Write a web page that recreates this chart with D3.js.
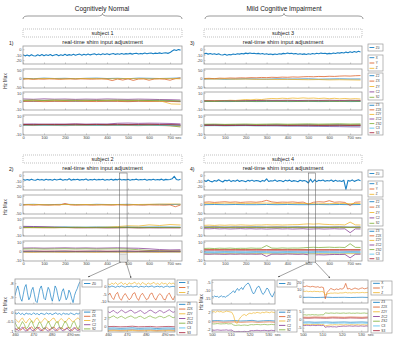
<!DOCTYPE html>
<html>
<head>
<meta charset="utf-8">
<script src="https://cdn.jsdelivr.net/npm/d3@7"></script>
<style>
body { margin: 0; background: #fff; }
svg { display: block; font-family: "Liberation Sans", Arial, sans-serif; }
.tick text, .tl { font-size: 4px; fill: #444; font-family: "Liberation Sans", Arial, sans-serif; }
.tick line { stroke: #777; stroke-width: 0.4; }
.frame { fill: none; stroke: #9a9a9a; stroke-width: 0.8; }
.lg { fill: #fff; stroke: #9a9a9a; stroke-width: 0.7; }
</style>
</head>
<body>
<div id="viz"></div>
<script>
// ---- shim names / colours
const order1 = ['Z0']
const orderXYZ = ['X', 'Y', 'Z']
const order2 = ['Z2', 'ZX', 'ZY', 'C2', 'S2']
const order3 = ['Z3', 'Z2X', 'Z2Y', 'ZC2', 'ZS2', 'C3', 'S3']
const COLORS = ['#0072BD', '#D95319', '#EDB120', '#7E2F8E', '#77AC30', '#4DBEEE', '#A2142F']

const mainTicks = [0, 100, 200, 300, 400, 500, 600, 700]
const leftZoomTicks = [460, 470, 480, 490]
const rightZoomTicks = [500, 510, 520, 530]

// ---- subject 1 (whole run, 0..750 sec)
const s1Z0 = [-9.8,-12.1,-10.5,-12.4,-9.9,-11.8,-12.3,-10.1,-11.9,-9.7,
  -12,-10.2,-11.5,-9.6,-11.9,-10.4,-9.5,-11.7,-10,-11.4,
  -9.3,-11.2,-9.8,-10.9,-9.1,-11,-9.6,-8.9,-10.8,-9.2,
  -10.5,-8.7,-10.3,-9,-8.4,-10.2,-8.8,-9.9,-8.3,-9.6,
  -8.1,-9.8,-8.6,-7.9,-9.4,-8.2,-9.3,-7.7,-9.1,-8,
  -8.8,-7.5,-8.9,-7.8,-7.2,-8.7,-7.6,-8.4,-7,-8.3,
  -7.4,-6.8,-8.1,-7.1,-7.8,-6.6,-7.7,-6.9,-6.4,-7.5,
  -6.1,-3.2,-0.9,-2.1,-0.5,-1.6]
const s1X = [1,-1,2,0,1,-1,1,2,0,1,-1,2,1,0,1,3]
const s1Y = [-4,-2,-5,-3,-4,-2,-3,-5,-3,-2,-4,-2,-3,-4,-3,-2,-4,-12,-3,-9,-2,-11,-3,-2,-10,-3,-2,-4,-10,-1,3]
const s1Z = [-1,-2,0,-1,-2,-1,0,-1,-2,-1,0,-1,-2,-1,0,-2]
const s1Z2 = [0.2,-0.3,0.4,0,0.3,-0.2,0.2,0.5,0,0.3,-0.1,0.2,0.4,0,0.1,-0.6]
const s1ZX = [-0.6,-0.3,-0.8,-0.4,-0.6,-0.2,-0.5,-0.7,-0.3,-0.5,-0.8,-0.4,-0.6,-0.3,-0.5,-0.9]
const s1ZY = [0.6,0.9,0.4,0.8,0.5,1,0.6,0.4,0.9,0.5,0.7,0.3,0.6,0.4,0.2,-0.4,-3.6,-3.9]
const s1C2 = [2.5,2.1,2.6,2.2,2.4,2,2.3,2.1,2.5,2.2,2,2.3,2.1,1.8,1.6,1.2]
const s1S2 = [0.9,1.1,0.7,1.2,0.9,0.8,1,0.7,1,1.1,0.8,0.9,0.7,0.8,0.6,0.1]
const s1Z3 = [0.3,0.5,0.1,0.4,0.2,0.5,0.3,0.1,0.4,0.3,0.5,0.2,0.4,0.1,0.3,-0.2]
const s1Z2X = [-0.4,-0.6,-0.3,-0.5,-0.7,-0.4,-0.5,-0.3,-0.6,-0.4,-0.5,-0.7,-0.4,-0.6,-0.8,-1.2]
const s1Z2Y = [0,0.2,-0.1,0.1,0,0.2,-0.1,0,0.1,-0.1,0.2,0,0.1,-0.2,0,-0.5]
const s1ZC2 = [1,1.2,0.9,1.1,1,1.3,1,1.2,1.1,1.9,2.1,1.8,2,1.9,1.7,1.2]
const s1ZS2 = [0.2,0,0.3,0.1,0,0.2,0.1,-0.1,0.2,0,0.1,-0.1,0,-0.3,-0.8,-2.2]
const s1C3 = [-0.3,-0.1,-0.4,-0.2,-0.3,-0.1,-0.2,-0.4,-0.2,-0.3,-0.1,-0.3,-0.2,-0.4,-0.3,-0.6]
const s1S3 = [0.6,0.4,0.7,0.5,0.6,0.8,0.5,0.6,0.4,0.7,0.5,0.6,0.8,0.5,0.4,0.1]

// ---- subject 2
const s2Z0 = [-7.2,-9.1,-7.8,-8.9,-7.1,-8.6,-9,-7.4,-8.8,-7.6,
  -9.2,-7.3,-8.5,-7.8,-9,-7.2,-8.7,-7.9,-7.1,-9.1,
  -7.7,-8.6,-6.4,-9,-7.5,-8.3,-7.2,-8.9,-7.7,-8.4,
  -7,-9.2,-7.8,-8.5,-7.1,-8.8,-7.6,-8.2,-7.3,-9,
  -7.7,-8.6,-7.2,-8.9,-7.5,-8.4,-7,-8.7,-7.9,-8.5,
  -7.3,-9,-7.6,-8.3,-7.1,-8.8,-7.7,-8.2,-7.4,-9.1,
  -7.6,-8.5,-7.2,-8.7,-7.8,-8.4,-7.1,-8.9,-7.5,-8.3,
  -7.7,-6.5,-1.8,-7.6,-8.6,-7.4]
const s2X = [0,1,-1,0,1,0,-1,1,0,0,1,-1,0,1,0,1]
const s2Y = [-3,-2,-4,-2,-3,-4,-2,-3,6,-2,-4,-3,-2,-4,-3,-2,-3,-4,-2,-3,-4,-2,-3,-4,-2,-3,-3,-4,-2,-13,-3]
const s2Z = [-1,0,-1,-2,0,-1,0,-1,-1,0,-1,0,1,2,3,2]
const s2Z2 = [-0.1,0,-0.2,-0.1,0,-0.1,-0.2,0,-0.1,-0.1,0,-0.2,-0.1,0,-0.1,-0.2]
const s2ZX = [-0.9,-0.8,-1,-0.9,-0.8,-1,-0.9,-0.8,-1,-0.9,-0.8,-1,-0.9,-0.8,-1,-0.9]
const s2ZY = [-0.4,-0.5,-0.3,-0.4,-0.6,-0.3,-0.5,-0.4,-0.2,0.5,1.5,1.2,2.6,1.8,3,2.4]
const s2C2 = [0.8,0.6,0.3,-0.2,-0.5,-0.8,-0.9,-0.8,-1,-0.9,-0.8,-1,-0.9,-1.1,-0.9,-1]
const s2S2 = [-0.5,-0.7,-0.6,-0.8,-0.5,-0.7,-0.6,-0.8,-0.6,-0.7,-0.5,-0.8,-0.6,-0.7,-0.5,-0.6]
const s2Z3 = [-0.5,-0.4,-0.6,-0.5,-0.4,-0.6,-0.5,-0.4,-0.6,-0.5,-0.4,-0.6,-0.5,-0.4,-0.6,-0.5]
const s2Z2X = [-1,-1.1,-0.9,-1,-1.1,-0.9,-1,-1.1,-0.9,-1,-1.1,-0.9,-1,-1.1,-0.9,-1]
const s2Z2Y = [-1.2,-1.3,-1.1,-1.2,-1.3,-1.1,-1.2,-1.3,-1.1,-1.2,-1.3,-1.1,-1.2,-1.3,-1.1,-1.2]
const s2ZC2 = [3.2,3.4,3.1,3.3,3.5,3.2,3.4,3.1,3.3,3.5,3.2,3,2.4,1.6,1.2,1.4]
const s2ZS2 = [2.2,2.4,2.1,2.3,2.5,2.2,2.4,2.1,2.3,2.4,2.2,1.4,0.6,0.2,0.1,0]
const s2C3 = [-0.8,-0.7,-0.9,-0.8,-0.7,-0.9,-0.8,-0.7,-0.9,-0.8,-0.7,-0.9,-0.8,-0.7,-0.9,-0.8]
const s2S3 = [-0.1,0,-0.2,-0.1,0,-0.2,-0.1,0,-0.2,-0.1,0,-0.2,-0.1,0,-0.2,-0.1]

// ---- subject 3
const s3Z0 = [-8.5,-7.2,-8.9,-7.8,-9.3,-8.1,-9.6,-8.4,-9.9,-10.6,
  -9.2,-10.8,-9.5,-10.2,-8.8,-9.6,-8.2,-8.9,-7.6,-8.4,
  -7.1,-8,-6.9,-7.8,-7.2,-8.3,-7.5,-8.6,-7.9,-9.1,
  -8.2,-9.4,-8.6,-9.8,-8.7,-9.5,-8.1,-8.9,-7.5,-8.2,
  -7,-7.9,-7.3,-8.5,-7.8,-9,-8.1,-9.3,-8.4,-9.6,
  -8.3,-9.1,-7.9,-8.6,-7.4,-8.1,-7,-7.9,-7.2,-8.4,
  -7.5,-8.2,-6.8,-7.6,-6.3,-7.1,-5.8,-6.9,-5.2,-6.4,
  -4.6,-5.9,-4.2,-5.5,-3.8,-4.9]
const s3X = [-3,-2,-4,-3,-2,-3,-4,-2,-3,-3,-2,-4,-3,-2,-3,-3]
const s3Y = [0,1,-1,2,1,3,2,4,3,5,4,6,5,7,6,8,7,9,8,10,11,10,12,11,13,12,14,15,14,16,17]
const s3Z = [-2,-3,-2,-4,-3,-5,-4,-6,-5,-6,-7,-6,-8,-7,-8,-9]
const s3Z2 = [-0.6,-0.5,-0.7,-0.6,-0.5,-0.7,-0.6,-0.5,-0.7,-0.6,-0.5,-0.7,-0.6,-0.5,-0.7,-0.6]
const s3ZX = [0.4,0.3,0.5,0.4,0.3,0.5,0.4,0.3,0.5,0.4,0.3,0.5,0.4,0.3,0.5,0.4]
const s3ZY = [0.2,0.5,0.1,0.6,0.4,0.9,0.6,1.2,1.8,1.4,2.1,1.7,2.6,3.1,2.8,3.4,3,3.6,3.2,3.8,3.3,3.6,3,3.5,2.8,3.3,2.6,3.1,2.5,2.9,2.4]
const s3C2 = [0.2,0,0.3,0.1,0.4,0.6,0.8,0.7,0.9,0.6,0.8,0.7,0.9,0.6,0.8,0.7]
const s3S2 = [-0.3,-0.5,-0.2,-0.4,-0.3,-0.5,-0.2,-0.4,-0.3,-0.5,-0.2,-0.4,-0.3,-0.5,-0.2,-0.4]
const s3Z3 = [0.3,0.4,0.2,0.3,0.4,0.2,0.3,0.4,0.2,0.3,0.4,0.2,0.3,0.4,0.2,0.3]
const s3Z2X = [-0.6,-0.5,-0.7,-0.6,-0.5,-0.7,-0.6,-0.5,-0.7,-0.6,-0.5,-0.7,-0.6,-0.5,-0.7,-0.6]
const s3Z2Y = [0.1,0,0.2,0.1,0,0.2,0.1,0,0.2,0.1,0,0.2,0.1,0,0.2,0.1]
const s3ZC2 = [0.2,0,-0.2,-0.3,-0.5,-0.6,-0.8,-0.9,-1.1,-1.2,-1.4,-1.5,-1.7,-1.8,-2,-2.1]
const s3ZS2 = [0.8,1,0.7,0.9,1.1,0.8,1,1.2,0.9,1.1,1.3,1,1.2,1.4,1.1,1.3]
const s3C3 = [-0.9,-0.8,-1,-0.9,-0.8,-1,-0.9,-0.8,-1,-0.9,-0.8,-1,-0.9,-0.8,-1,-0.9]
const s3S3 = [-0.4,-0.3,-0.5,-0.4,-0.3,-0.5,-0.4,-0.3,-0.5,-0.4,-0.3,-0.5,-0.4,-0.3,-0.5,-0.4]

// ---- subject 4
const s4Z0 = [-9.2,-11.4,-8.7,-10.8,-12.1,-9.5,-11,-8.3,-10.6,-12.4,
  -9.1,-10.3,-8.5,-11.6,-9.8,-10.9,-8.8,-11.3,-9.6,-10.4,
  -11.8,-9.3,-10.7,-8.9,-11.1,-9.7,-10.2,-12,-9.4,-10.8,
  -6.5,-11.4,-9.9,-10.5,-8.7,-11.2,-9.5,-10.1,-11.7,-9.2,
  -10.6,-8.9,-11.3,-9.8,-10.4,-11.9,-9.1,-10.7,-9.6,-11,
  -14.2,-7.1,-12.8,-8.4,-11.6,-9.3,-10.2,-8.8,-11.1,-9.7,
  -10.5,-8.6,-11.4,-9.2,-10.8,-9.9,-11.3,-9,-26,-9.4,
  -10.7,-8.5,-11.2,-9.6,-8.1,-10.3]
const s4X = [-1,0,-1,0,-1,-1,0,-1,0,-1,-1,0,-1,0,-1,0]
const s4Y = [13,15,12,14,16,13,15,12,14,15,13,16,24,15,12,14,13,15,12,14,2,13,16,14,22,13,15,12,-6,13,15]
const s4Z = [7,6,8,7,6,7,8,6,7,6,5,4,5,6,5,6]
const s4Z2 = [0,0.2,-0.1,0.1,0,0.2,-0.1,0.1,0,0.2,-0.1,0.1,0,0.2,-0.1,0.1]
const s4ZX = [-0.3,-0.2,-0.4,-0.3,-0.2,-0.4,-0.3,-0.2,-0.4,-0.3,-0.2,-0.4,-0.3,-0.2,-0.4,-0.3]
const s4ZY = [2,2.3,1.9,2.4,2.1,2.5,2.2,2.6,2.3,2.1,2.5,2.4,2.8,2.5,2.7,2.4,2.6,2.8,2.9,3.4,3.8,3.5,3.9,3.3,3,2.7,2.9,2.5,6,2.6,2.4]
const s4C2 = [-2,-2.2,-1.9,-2.3,-2.1,-2.4,-2.2,-2,-2.3,-2.1,-2.4,-2.2,-2.5,-2.3,-2.1,-2.4,-2.2,-2.5,-2.3,-2.1,-2.6,-2.4,-2.2,-2.5,-2.3,-2.1,-2.4,-2.2,-7,-2.3,-2.4]
const s4S2 = [-0.6,-0.8,-0.7,-0.9,-0.6,-0.8,-0.7,-0.9,-0.6,-0.8,-0.7,-0.9,-0.6,-0.8,-0.7,-0.9]
const s4Z3 = [-1,-1.1,-0.9,-1,-1.1,-0.9,-1,-1.1,-0.9,-1,-1.1,-0.9,-1,-1.1,-0.9,-1]
const s4Z2X = [1.5,1.6,1.4,1.5,1.6,1.4,1.5,1.6,1.4,1.5,1.6,1.4,1.5,1.6,1.4,1.5]
const s4Z2Y = [-3,-3.1,-2.9,-3,-3.1,-2.9,-3,-3.1,-2.9,-3,-3.1,-2.9,-3,-3.1,-2.9,-3]
const s4ZC2 = [-3.4,-3.6,-3.3,-3.5,-3.7,-3.4,-3.6,-3.3,-3.5,-3.4,-3.6,-3.3,-6,-3.5,-3.4,-3.6,-3.3,-3.5,-3.7,-3.4,-4.2,-4.4,-4.1,-4.3,-4,-3.8,-3.9,-3.7,-7.5,-3.6,-3.5]
const s4ZS2 = [2.8,3,2.7,3.1,2.9,3.2,2.8,3,2.9,3.3,3,3.1,6,3.2,3,3.4,3.1,3.3,3.2,3.5,3.9,4.1,3.8,4,4.2,3.9,4.1,3.8,8,4,3.9]
const s4C3 = [-2,-2.1,-1.9,-2,-2.1,-1.9,-2,-2.1,-1.9,-2,-2.1,-1.9,-2,-2.1,-1.9,-2]
const s4S3 = [1,0.9,1.1,1,0.9,1.1,1,0.9,1.1,1,0.9,1.1,1,0.9,1.1,1]

// ---- zoom of subject 2, 460..495.5 sec
const zA_Z0 = [-8.9,-8.5,-8.2,-8.6,-9.1,-9.3,-8.8,-8.3,-8.1,-8.7,-9.2,-9.0,-8.5,-8.3,-8.8,-9.3,-9.4,-8.9,-8.4,-8.2,-8.6,-9.1,-9.2,-8.7,-8.3,-8.5,-9.0,-9.3,-8.8,-8.2,-8.4,-8.9,-9.3,-9.1,-8.6,-8.4,-8.8,-9.2,-9.0,-8.5,-8.7,-9.1,-9.4,-8.9,-8.6,-8.4,-8.1,-7.9]
const zB_Z2 = [-0.05,-0.1,-0.02,-0.12,-0.06,-0.15,-0.04,-0.1,-0.08,-0.13,-0.03,-0.11,-0.07,-0.14,-0.05,-0.09,-0.12,-0.04,-0.1,-0.06,-0.13,-0.08,-0.03,-0.11,-0.07,-0.14,-0.05,-0.1,-0.08,-0.12,-0.04,-0.09,-0.13,-0.06,-0.1,-0.03]
const zB_ZX = [-0.9,-0.95,-0.82,-0.97,-0.88,-0.8,-0.93,-0.99,-0.85,-0.78,-0.92,-0.98,-0.86,-0.8,-0.94,-1.0,-0.87,-0.81,-0.9,-0.97,-0.84,-0.79,-0.93,-0.99,-0.88,-0.82,-0.91,-0.96,-0.85,-0.8,-0.94,-0.98,-0.86,-0.83,-0.92,-0.95]
const zB_ZY = [-0.35,-0.45,-0.55,-0.4,-0.3,-0.48,-0.58,-0.42,-0.33,-0.5,-0.57,-0.38,-0.3,-0.46,-0.56,-0.44,-0.32,-0.4,-0.54,-0.47,-0.35,-0.31,-0.49,-0.58,-0.41,-0.34,-0.45,-0.55,-0.43,-0.3,-0.4,-0.52,-0.46,-0.36,-0.3,-0.42]
const zB_C2 = [-0.85,-0.92,-1.0,-0.88,-0.8,-0.95,-1.02,-0.9,-0.82,-0.97,-1.0,-0.86,-0.79,-0.93,-1.01,-0.89,-0.83,-0.96,-1.02,-0.9,-0.81,-0.94,-1.0,-0.87,-0.8,-0.95,-1.01,-0.91,-0.84,-0.97,-1.0,-0.88,-0.82,-0.94,-0.99,-0.9]
const zB_S2 = [-0.55,-0.75,-0.9,-0.7,-0.5,-0.65,-0.88,-0.8,-0.58,-0.45,-0.72,-0.9,-0.76,-0.52,-0.6,-0.85,-0.9,-0.66,-0.48,-0.7,-0.89,-0.78,-0.55,-0.5,-0.8,-0.9,-0.68,-0.47,-0.62,-0.86,-0.83,-0.57,-0.49,-0.74,-0.9,-0.7]
const zC_X = [0.2,-0.3,0.4,0,-0.5,0.3,-0.2,0.5,0,-0.4,0.2,-0.1,0.4,-0.3,0.1,0.3,-0.5,0.2,0,-0.3,0.4,-0.2,0.1,0.5,-0.4,0,0.3,-0.2,0.2,-0.5,0.1,0.4,-0.3,0,0.2,-0.1]
const zC_Y = [-6,-4.5,-7.5,-9,-5.5,-4,-8,-9.5,-6.5,-4.8,-7,-9.2,-8,-5,-4.2,-7.8,-9.6,-6.2,-4.6,-6.8,-9,-8.4,-5.2,-4.4,-7.6,-9.4,-6.6,-4.9,-6,-8.8,-9.1,-5.8,-4.5,-7.2,-9.3,-6.4]
const zC_Z = [2,1.2,2.5,1.6,2.8,1.4,2.2,3,1.5,2.4,1.1,2.7,1.8,2.3,3.1,1.6,2.5,1.3,2.9,2,1.4,2.6,1.7,2.2,3,1.5,2.4,1.2,2.8,1.9,2.3,1.4,2.7,1.8,2.5,1.6]
const zD_Z3 = [-0.5,-0.45,-0.55,-0.5,-0.4,-0.55,-0.5,-0.45,-0.6,-0.5,-0.45,-0.55]
const zD_Z2X = [-1,-0.95,-1.05,-1,-0.9,-1.05,-1,-0.95,-1.1,-1,-0.95,-1.05]
const zD_Z2Y = [-1.2,-1.15,-1.25,-1.2,-1.1,-1.25,-1.2,-1.15,-1.3,-1.2,-1.15,-1.25]
const zD_ZC2 = [3.8,3.5,3.9,4.1,3.6,3.4,3.8,4.2,3.9,3.5,3.7,4,4.2,3.8,3.4,3.6,3.9,4.1,3.7,3.3,3.5,3.9,4.2,4,3.6,3.4,3.8,4.1,3.9,3.5,3.7,4,4.3,3.9,3.6,3.8]
const zD_ZS2 = [2.4,2.2,2.5,2.7,2.3,2.1,2.4,2.6,2.3,2,2.3,2.5,2.7,2.4,2.1,2.2,2.5,2.6,2.3,2,2.2,2.5,2.7,2.4,2.2,2.1,2.4,2.6,2.5,2.2,2.3,2.6,2.8,2.5,2.2,2.4]
const zD_C3 = [-0.8,-0.75,-0.85,-0.8,-0.7,-0.85,-0.8,-0.75,-0.9,-0.8,-0.75,-0.85]
const zD_S3 = [-0.1,-0.05,-0.15,-0.1,0,-0.15,-0.1,-0.05,-0.2,-0.1,-0.05,-0.15]

// ---- zoom of subject 4, 500..533.5 sec
const zE_Z0 = [-14.2,-14.6,-13.9,-14.4,-14.1,-14.8,-14.3,-13.8,-14.5,-14.2,-14.7,-14,-13.6,-12.8,
  -12.2,-11.4,-10.6,-11.8,-10.2,-9.1,-10.4,-9.6,-8.5,-9.8,-8.2,-7.1,-6.2,-5.6,
  -6.8,-8.9,-11.2,-12.6,-11.5,-9.4,-8.1,-7.6,-9.2,-11.5,-12.9,-12.1,-10.4,-8.8,
  -9.6,-11.8,-13.4,-14.6,-12.7,-10.9]
const zF_Z2 = [0,0.05,-0.05,0,0.05,-0.05,0,0.1,-0.1,0,0.05,-0.05]
const zF_ZX = [-0.3,-0.25,-0.35,-0.3,-0.25,-0.35,-0.3,-0.25,-0.35,-0.3,-0.25,-0.35]
const zF_ZY = [2.1,2.2,2,2.3,2.1,2.2,2,2.1,2.3,2.2,2.1,2,1.2,-0.4,-0.6,0.3,0.9,1.3,1.5,1.2,1.6,1.8,1.7,1.9,1.8,2,1.9,1.8,2,1.9,2.1,2,1.9,2.1,2,1.9]
const zF_C2 = [-2.2,-2.25,-2.2,-2.15,-2.2,-2.25,-2.2,-2.2,-2.15,-2.25,-2.2,-2.2,-2.5,-2.6,-2.55,-2.5,-2.6,-2.55,-2.5,-2.55,-2.6,-2.4,-2.3,-2.35,-2.3,-2.25,-2.3,-2.35,-2.3,-2.25,-2.3,-2.35,-2.3,-2.25,-2.3,-2.3]
const zF_S2 = [-0.7,-0.75,-0.7,-0.65,-0.7,-0.75,-0.7,-0.7,-0.65,-0.75,-0.7,-0.7,-1,-1.1,-1.05,-1,-1.1,-1.05,-1,-1.05,-1.1,-0.95,-0.9,-0.95,-0.9,-0.85,-0.9,-0.95,-0.9,-0.85,-0.9,-0.95,-0.9,-0.85,-0.9,-0.9]
const zG_X = [-1,-0.8,-1.2,-1,-0.7,-1.1,-1,-0.9,-1.2,-1,-0.8,-1.1]
const zG_Y = [14.5,14,15,14.2,13.6,14.4,13.8,13.2,13.9,12.8,13.4,12.6,-3,6,9,11.5,10.2,9.4,10.8,9.8,11.2,10.4,12,18.5,10.6,11.4,9.9,10.8,12.1,11,10.3,11.6,12.2,10.9,11.5,12.4]
const zG_Z = [7.5,7.2,7.8,7,7.4,6.9,7.6,7.1,7.3,6.8,7.2,6.9,2.5,3.8,4.5,5,4.8,5.2,5,4.7,5.3,5.1,5.4,6,5.2,5.5,5.1,5.6,5.3,5.8,5.4,5.6,5.9,5.5,5.7,5.8]
const zH_Z3 = [-1.5,-1.4,-1.6,-1.5,-1.4,-1.6,-1.5,-1.4,-1.6,-1.5,-1.4,-1.6]
const zH_Z2X = [1.6,1.5,1.7,1.6,1.5,1.7,1.6,1.5,1.7,1.6,1.5,1.7]
const zH_Z2Y = [-3,-3.1,-2.9,-3,-3.1,-2.9,-3,-3.1,-2.9,-3,-3.1,-2.9,-3.9,-3.6,-3.4,-3.2,-3.3,-3.1,-3.2,-3.3,-3.1,-3.2,-3.3,-3.1,-3.2,-3.3,-3.1,-3.2,-3.3,-3.1,-3.2,-3.3,-3.1,-3.2,-3.3,-3.1]
const zH_ZC2 = [-3.6,-3.7,-3.5,-3.6,-3.7,-3.5,-3.6,-3.7,-3.5,-3.6,-3.7,-3.5,-4.8,-4.4,-4.5,-4.3,-4.5,-4.4,-4.6,-4.3,-4.2,-4.1,-4,-4.1,-4,-3.9,-4,-4.1,-3.9,-4,-4.1,-3.9,-4,-4.1,-3.9,-4]
const zH_ZS2 = [3,3.1,2.9,3.1,3,3.2,3,3.1,2.9,3,3.1,3,4.3,4.1,4,4.2,4.1,4,4.2,4.1,4,4.1,4.2,4,4.1,4.2,4,4.1,4,4.2,4.1,4,4.1,4.2,4,4.1]
const zH_C3 = [-2.2,-2.1,-2.3,-2.2,-2.1,-2.3,-2.2,-2.1,-2.3,-2.2,-2.1,-2.3]
const zH_S3 = [1,0.9,1.1,1,0.9,1.1,1,0.9,1.1,1,0.9,1.1]

// ---------------------------------------------------------------
const svg = d3.select('#viz').append('svg').attr('width', 400).attr('height', 349)
svg.append('rect').attr('width', 400).attr('height', 349).attr('fill', '#fff')

const defs = svg.append('defs')
defs.append('marker').attr('id', 'arr').attr('viewBox', '0 0 10 10')
    .attr('refX', 9).attr('refY', 5).attr('markerWidth', 4).attr('markerHeight', 4).attr('orient', 'auto')
    .append('path').attr('d', 'M0,1 L10,5 L0,9 z').attr('fill', '#444')

let clipN = 0
function drawPanel(o) {
    const xs = d3.scaleLinear().domain(o.xDom).range([o.x, o.x + o.w])
    const ys = d3.scaleLinear().domain(o.yDom).range([o.y + o.h, o.y])
    const cid = 'clip' + (clipN++)
    defs.append('clipPath').attr('id', cid).append('rect')
        .attr('x', o.x).attr('y', o.y).attr('width', o.w).attr('height', o.h)
    const g = svg.append('g')
    const lines = g.append('g').attr('clip-path', `url(#${cid})`)
    o.series.forEach((vals, k) => {
        const n = vals.length, dt = (o.tSpan[1] - o.tSpan[0]) / (n - 1)
        const line = d3.line().x((d, i) => xs(o.tSpan[0] + i * dt)).y(d => ys(d))
        lines.append('path').attr('d', line(vals)).attr('fill', 'none')
            .attr('stroke', COLORS[k]).attr('stroke-width', o.sw || 0.7)
            .attr('stroke-linejoin', 'round').attr('opacity', 0.9)
    })
    const xa = g.append('g').attr('transform', `translate(0,${o.y + o.h})`)
        .call(d3.axisBottom(xs).tickValues(o.xTicks).tickSizeInner(-1.5).tickSizeOuter(0)
            .tickPadding(1.5).tickFormat(o.xLabels ? d => String(d) : () => ''))
    xa.select('.domain').remove()
    if (o.xLabels) {
        g.append('text').attr('class', 'tl').attr('x', xs(o.secAt)).attr('y', o.y + o.h + 1.5)
            .attr('dy', '0.71em').attr('text-anchor', 'middle').text('sec')
    }
    const ya = g.append('g').attr('transform', `translate(${o.x},0)`)
        .call(d3.axisLeft(ys).tickValues(o.yTicks).tickSizeInner(-1.5).tickSizeOuter(0)
            .tickPadding(1.5).tickFormat(d => String(d)))
    ya.select('.domain').remove()
    g.append('rect').attr('class', 'frame').attr('x', o.x).attr('y', o.y).attr('width', o.w).attr('height', o.h)
    return xs
}

function drawLegend(x, y, w, h, labels, fs) {
    const g = svg.append('g')
    g.append('rect').attr('class', 'lg').attr('x', x).attr('y', y).attr('width', w).attr('height', h)
    const step = h / labels.length
    const l1 = w * 0.1, l2 = w * 0.42
    labels.forEach((lab, i) => {
        const cy = y + step * (i + 0.5)
        g.append('line').attr('x1', x + l1).attr('x2', x + l2).attr('y1', cy).attr('y2', cy)
            .attr('stroke', COLORS[i]).attr('stroke-width', 0.8)
        g.append('text').attr('x', x + l2 + 1.5).attr('y', cy).attr('dy', '0.35em')
            .attr('font-size', fs).attr('fill', '#333').text(lab)
    })
}

function vText(x, y, txt, fs) {
    svg.append('text').attr('transform', `translate(${x},${y}) rotate(-90)`)
        .attr('text-anchor', 'middle').attr('font-size', fs).attr('fill', '#333').text(txt)
}

function brace(x0, x1, y) {
    const xm = (x0 + x1) / 2
    const p = d3.path()
    p.moveTo(x0, y + 3)
    p.quadraticCurveTo(x0, y, x0 + 5, y)
    p.lineTo(xm - 5, y)
    p.quadraticCurveTo(xm, y, xm, y - 2.5)
    p.quadraticCurveTo(xm, y, xm + 5, y)
    p.lineTo(x1 - 5, y)
    p.quadraticCurveTo(x1, y, x1, y + 3)
    svg.append('path').attr('d', p).attr('fill', 'none').attr('stroke', '#555').attr('stroke-width', 0.6)
}

// ---- headers
svg.append('text').attr('x', 102).attr('y', 11).attr('text-anchor', 'middle').attr('font-size', 6.5).attr('fill', '#222').text('Cognitively Normal')
svg.append('text').attr('x', 284).attr('y', 11).attr('text-anchor', 'middle').attr('font-size', 6.5).attr('fill', '#222').text('Mild Cognitive Impairment')
brace(23, 182, 16)
brace(205, 363, 16)

// ---- subject blocks
const rows = [
    { dy: 0, h: 18, yDom: [-27, 6], yTicks: [0, -10, -20], names: order1, lg: [-2, 7], sw: 1.1 },
    { dy: 23, h: 19, yDom: [-55, 55], yTicks: [50, 0, -50], names: orderXYZ, lg: [9, 16], sw: 0.8 },
    { dy: 46, h: 18, yDom: [-11, 11], yTicks: [10, 0, -10], names: order2, lg: [27, 27], sw: 0.8 },
    { dy: 69, h: 20, yDom: [-11, 11], yTicks: [10, 0, -10], names: order3, lg: [57, 32], sw: 0.8 }
]
const subjects = [
    { label: 'subject 1', tag: '1)', x: 23, w: 159, top: 46,
      data: [[s1Z0], [s1X, s1Y, s1Z], [s1Z2, s1ZX, s1ZY, s1C2, s1S2], [s1Z3, s1Z2X, s1Z2Y, s1ZC2, s1ZS2, s1C3, s1S3]] },
    { label: 'subject 2', tag: '2)', x: 23, w: 159, top: 172, zoom: [460, 495.5],
      data: [[s2Z0], [s2X, s2Y, s2Z], [s2Z2, s2ZX, s2ZY, s2C2, s2S2], [s2Z3, s2Z2X, s2Z2Y, s2ZC2, s2ZS2, s2C3, s2S3]] },
    { label: 'subject 3', tag: '3)', x: 204, w: 158, top: 46, legend: true,
      data: [[s3Z0], [s3X, s3Y, s3Z], [s3Z2, s3ZX, s3ZY, s3C2, s3S2], [s3Z3, s3Z2X, s3Z2Y, s3ZC2, s3ZS2, s3C3, s3S3]] },
    { label: 'subject 4', tag: '4)', x: 204, w: 158, top: 172, legend: true, zoom: [500, 533.5],
      data: [[s4Z0], [s4X, s4Y, s4Z], [s4Z2, s4ZX, s4ZY, s4C2, s4S2], [s4Z3, s4Z2X, s4Z2Y, s4ZC2, s4ZS2, s4C3, s4S3]] }
]

subjects.forEach(s => {
    const cx = s.x + s.w / 2
    svg.append('rect').attr('x', s.x).attr('y', s.top - 17).attr('width', s.w).attr('height', 8)
        .attr('fill', 'none').attr('stroke', '#999').attr('stroke-width', 0.6).attr('stroke-dasharray', '1,1')
    svg.append('text').attr('x', cx).attr('y', s.top - 11).attr('text-anchor', 'middle').attr('font-size', 5.5).attr('fill', '#222').text(s.label)
    svg.append('text').attr('x', cx).attr('y', s.top - 2.5).attr('text-anchor', 'middle').attr('font-size', 5.8).attr('fill', '#222').text('real-time shim input adjustment')
    svg.append('text').attr('x', s.x - 14).attr('y', s.top - 1.5).attr('font-size', 5).attr('fill', '#222').text(s.tag)
    let xs
    rows.forEach((r, i) => {
        const sc = drawPanel({ x: s.x, y: s.top + r.dy, w: s.w, h: r.h, xDom: [0, 757], tSpan: [0, 750],
            yDom: r.yDom, yTicks: r.yTicks, xTicks: mainTicks, xLabels: i === 3, secAt: 740,
            series: s.data[i], sw: r.sw })
        if (i === 0) xs = sc
        if (s.legend) drawLegend(368, s.top + r.lg[0], 15, r.lg[1], r.names, 3)
    })
    if (s.x < 100) vText(7, s.top + 35, 'Hz Max', 4.5)
    if (s.zoom) {
        const x0 = xs(s.zoom[0]), x1 = xs(s.zoom[1])
        svg.append('rect').attr('x', x0).attr('y', s.top + 1).attr('width', x1 - x0).attr('height', 89)
            .attr('fill', 'none').attr('stroke', '#555').attr('stroke-width', 0.5)
        svg.append('rect').attr('x', x0).attr('y', s.top + 82).attr('width', x1 - x0).attr('height', 8)
            .attr('fill', '#e6e6e6').attr('stroke', '#888').attr('stroke-width', 0.4)
    }
})

// ---- arrows to the zoomed views
const arrows = [[121, 262, 88, 277], [126, 262, 131, 278], [310, 262, 278, 277], [315, 262, 330, 278]]
arrows.forEach(a => {
    svg.append('line').attr('x1', a[0]).attr('y1', a[1]).attr('x2', a[2]).attr('y2', a[3])
        .attr('stroke', '#444').attr('stroke-width', 0.5).attr('marker-end', 'url(#arr)')
})

// ---- zoomed panels
const L = { xDom: [460, 495.5], tSpan: [460, 495.5], xTicks: leftZoomTicks, secAt: 494 }
const R = { xDom: [500, 533.5], tSpan: [500, 533.5], xTicks: rightZoomTicks, secAt: 535 }
drawPanel({ ...L, x: 15, y: 279, w: 65, h: 25, yDom: [-9.5, -7.7], yTicks: [-8, -9], xLabels: false, series: [zA_Z0] })
drawPanel({ ...L, x: 15, y: 310, w: 65, h: 22, yDom: [-1.06, 0.12], yTicks: [0, -0.5, -1], xLabels: true, series: [zB_Z2, zB_ZX, zB_ZY, zB_C2, zB_S2] })
drawPanel({ ...L, x: 108, y: 279, w: 67, h: 23, yDom: [-10.7, 5.3], yTicks: [0, -5, -10], xLabels: false, series: [zC_X, zC_Y, zC_Z] })
drawPanel({ ...L, x: 108, y: 307, w: 67, h: 25, yDom: [-1.5, 5], yTicks: [2, 0], xLabels: true, series: [zD_Z3, zD_Z2X, zD_Z2Y, zD_ZC2, zD_ZS2, zD_C3, zD_S3] })
drawPanel({ ...R, x: 212, y: 280, w: 63, h: 24, yDom: [-19, -3.7], yTicks: [-5, -10, -15], xLabels: false, series: [zE_Z0] })
drawPanel({ ...R, x: 212, y: 310, w: 63, h: 22, yDom: [-2.65, 2.55], yTicks: [2, 0, -2], xLabels: true, series: [zF_Z2, zF_ZX, zF_ZY, zF_C2, zF_S2] })
drawPanel({ ...R, x: 303, y: 280, w: 65, h: 23, yDom: [-8.8, 23.2], yTicks: [20, 10, 0], xLabels: false, series: [zG_X, zG_Y, zG_Z] })
drawPanel({ ...R, x: 303, y: 309, w: 65, h: 23, yDom: [-7.7, 6.7], yTicks: [5, 0, -5], xLabels: true, series: [zH_Z3, zH_Z2X, zH_Z2Y, zH_ZC2, zH_ZS2, zH_C3, zH_S3] })

drawLegend(82, 280, 20, 7, order1, 3.5)
drawLegend(82, 310, 20, 21, order2, 3.2)
drawLegend(177, 280, 20, 15, orderXYZ, 3.2)
drawLegend(177, 302, 20, 33, order3, 3.2)
drawLegend(277, 280, 20, 7, order1, 3.5)
drawLegend(277, 310, 20, 22, order2, 3.2)
drawLegend(371, 281, 21, 14, orderXYZ, 3.2)
drawLegend(371, 300, 21, 33, order3, 3.2)

vText(7, 305, 'Hz Max', 4.5)
vText(203, 302, 'Hz Max', 4.5)
</script>
</body>
</html>
